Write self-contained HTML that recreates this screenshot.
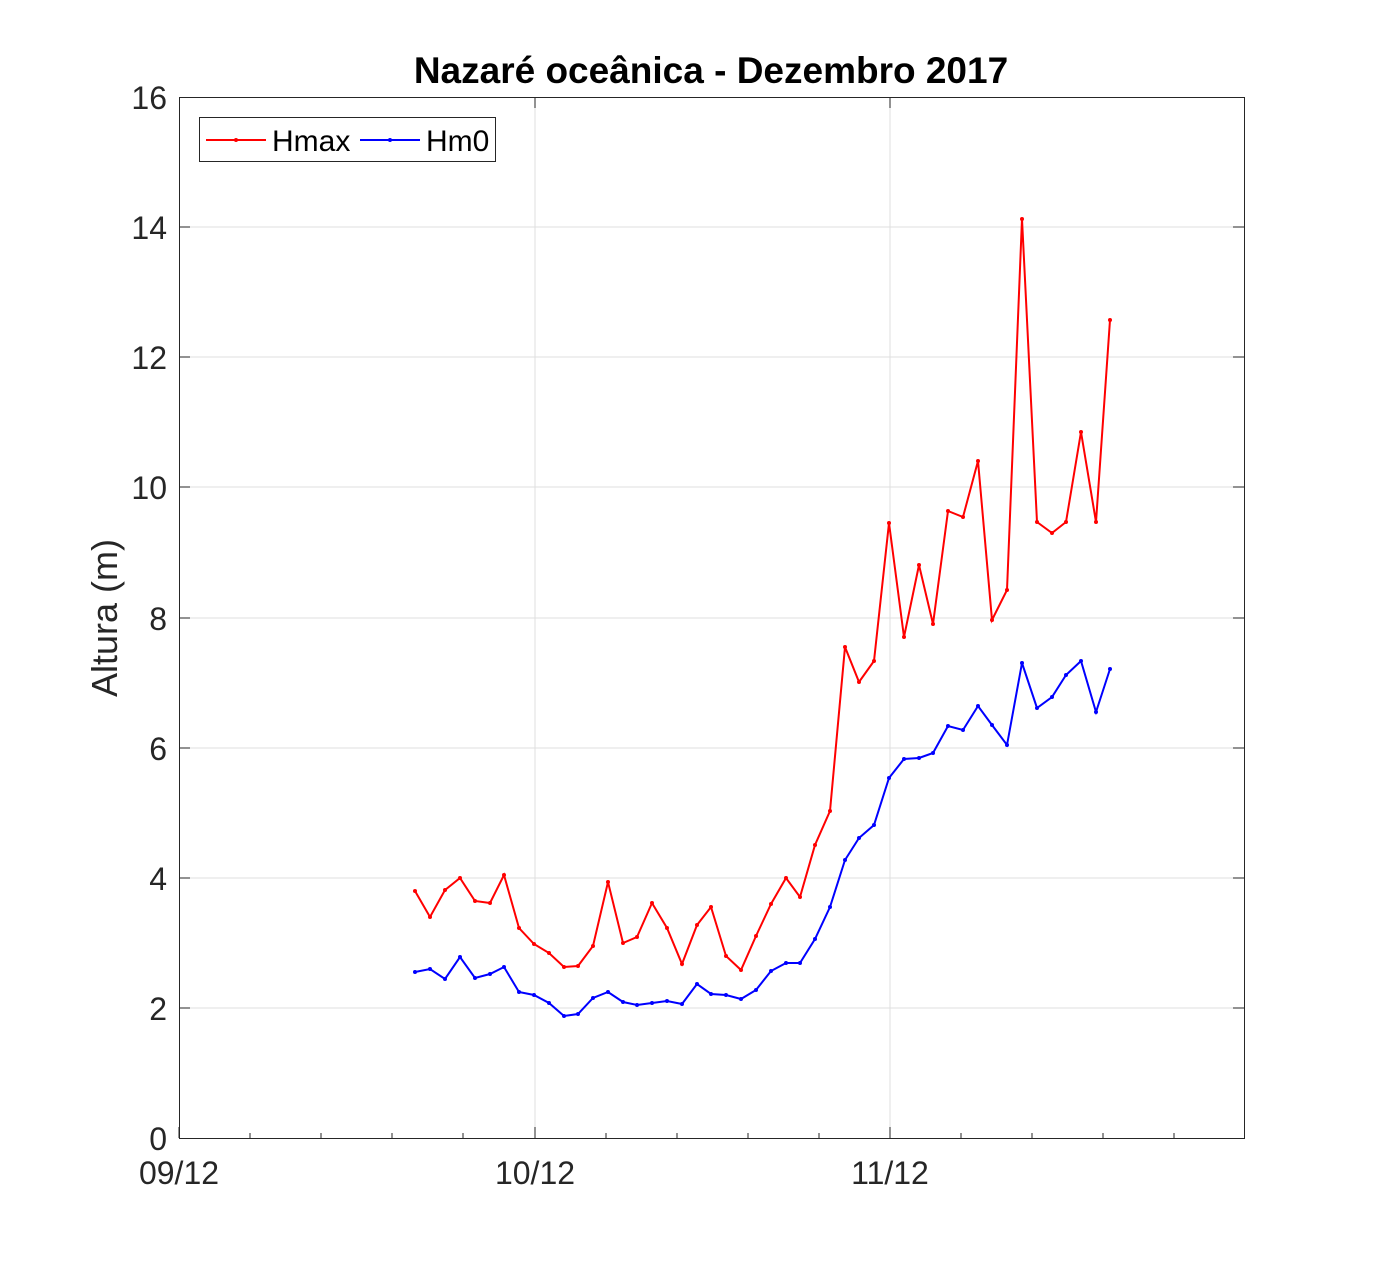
<!DOCTYPE html>
<html><head><meta charset="utf-8"><style>
html,body{margin:0;padding:0;background:#fff;}
svg text{font-family:"Liberation Sans",Arial,sans-serif;fill:#262626;}
</style></head><body>
<svg width="1375" height="1280" xmlns="http://www.w3.org/2000/svg">
<defs>
<marker id="mr" viewBox="0 0 6 6" refX="3" refY="3" markerWidth="6" markerHeight="6" markerUnits="userSpaceOnUse"><circle cx="3" cy="3" r="2" fill="#ff0000"/></marker>
<marker id="mb" viewBox="0 0 6 6" refX="3" refY="3" markerWidth="6" markerHeight="6" markerUnits="userSpaceOnUse"><circle cx="3" cy="3" r="2" fill="#0000ff"/></marker>
</defs>
<rect width="1375" height="1280" fill="#fff"/>
<g stroke="#dfdfdf" stroke-width="1">
<line x1="535" y1="97" x2="535" y2="1138"/><line x1="890" y1="97" x2="890" y2="1138"/>
<line x1="179" y1="1008" x2="1244" y2="1008"/><line x1="179" y1="878" x2="1244" y2="878"/>
<line x1="179" y1="748" x2="1244" y2="748"/><line x1="179" y1="618" x2="1244" y2="618"/>
<line x1="179" y1="487" x2="1244" y2="487"/><line x1="179" y1="357" x2="1244" y2="357"/>
<line x1="179" y1="227" x2="1244" y2="227"/>
</g>
<rect x="179.5" y="97.5" width="1065" height="1041" fill="none" stroke="#262626" stroke-width="1"/>
<g stroke="#262626" stroke-width="1">
<line x1="179" y1="1138" x2="179" y2="1127"/><line x1="535" y1="1138" x2="535" y2="1127"/><line x1="890" y1="1138" x2="890" y2="1127"/>
<line x1="535" y1="97" x2="535" y2="108"/><line x1="890" y1="97" x2="890" y2="108"/>
<line x1="250" y1="1138" x2="250" y2="1133"/><line x1="321" y1="1138" x2="321" y2="1133"/><line x1="392" y1="1138" x2="392" y2="1133"/><line x1="463" y1="1138" x2="463" y2="1133"/>
<line x1="606" y1="1138" x2="606" y2="1133"/><line x1="677" y1="1138" x2="677" y2="1133"/><line x1="748" y1="1138" x2="748" y2="1133"/><line x1="819" y1="1138" x2="819" y2="1133"/>
<line x1="961" y1="1138" x2="961" y2="1133"/><line x1="1032" y1="1138" x2="1032" y2="1133"/><line x1="1103" y1="1138" x2="1103" y2="1133"/><line x1="1174" y1="1138" x2="1174" y2="1133"/>
<line x1="179" y1="1008" x2="190" y2="1008"/><line x1="179" y1="878" x2="190" y2="878"/><line x1="179" y1="748" x2="190" y2="748"/><line x1="179" y1="618" x2="190" y2="618"/><line x1="179" y1="487" x2="190" y2="487"/><line x1="179" y1="357" x2="190" y2="357"/><line x1="179" y1="227" x2="190" y2="227"/>
<line x1="1244" y1="1008" x2="1233" y2="1008"/><line x1="1244" y1="878" x2="1233" y2="878"/><line x1="1244" y1="748" x2="1233" y2="748"/><line x1="1244" y1="618" x2="1233" y2="618"/><line x1="1244" y1="487" x2="1233" y2="487"/><line x1="1244" y1="357" x2="1233" y2="357"/><line x1="1244" y1="227" x2="1233" y2="227"/>
</g>
<g font-size="32" text-anchor="end">
<text x="167" y="1150">0</text><text x="167" y="1020">2</text><text x="167" y="890">4</text><text x="167" y="760">6</text><text x="167" y="630">8</text><text x="167" y="499">10</text><text x="167" y="369">12</text><text x="167" y="239">14</text><text x="167" y="109">16</text>
</g>
<g font-size="32" text-anchor="middle">
<text x="179" y="1184">09/12</text><text x="535" y="1184">10/12</text><text x="890" y="1184">11/12</text>
</g>
<text x="711" y="83" font-size="37" font-weight="bold" text-anchor="middle" style="fill:#000">Nazaré oceânica - Dezembro 2017</text>
<text transform="translate(117,618) rotate(-90)" font-size="36" text-anchor="middle">Altura (m)</text>
<polyline fill="none" stroke="#ff0000" stroke-width="2" marker-start="url(#mr)" marker-mid="url(#mr)" marker-end="url(#mr)" points="415,891 430,917 445,890 460,878 475,901 490,903 504,875 519,928 534,944 549,953 564,967 578,966 593,946 608,882 623,943 637,937 652,903 667,928 682,964 697,925 711,907 726,956 741,970 756,936 771,904 786,878 800,897 815,845 830,811 845,647 859,682 874,661 889,523 904,637 919,565 933,624 948,511 963,517 978,461 992,620 1007,590 1022,219 1037,522 1052,533 1066,522 1081,432 1096,522 1110,320"/>
<polyline fill="none" stroke="#0000ff" stroke-width="2" marker-start="url(#mb)" marker-mid="url(#mb)" marker-end="url(#mb)" points="415,972 430,969 445,979 460,957 475,978 490,974 504,967 519,992 534,995 549,1003 564,1016 578,1014 593,998 608,992 623,1002 637,1005 652,1003 667,1001 682,1004 697,984 711,994 726,995 741,999 756,990 771,971 786,963 800,963 815,939 830,907 845,860 859,838 874,825 889,778 904,759 919,758 933,753 948,726 963,730 978,706 992,725 1007,745 1022,663 1037,708 1052,697 1066,675 1081,661 1096,712 1110,669"/>
<rect x="199.5" y="117.5" width="296" height="44" fill="#fff" stroke="#262626" stroke-width="1"/>
<line x1="206" y1="140" x2="266" y2="140" stroke="#ff0000" stroke-width="2"/>
<circle cx="236" cy="140" r="2" fill="#ff0000"/>
<text x="272" y="151" font-size="30" style="fill:#000">Hmax</text>
<line x1="360" y1="140" x2="420" y2="140" stroke="#0000ff" stroke-width="2"/>
<circle cx="390" cy="140" r="2" fill="#0000ff"/>
<text x="426" y="151" font-size="30" style="fill:#000">Hm0</text>
</svg>
</body></html>
